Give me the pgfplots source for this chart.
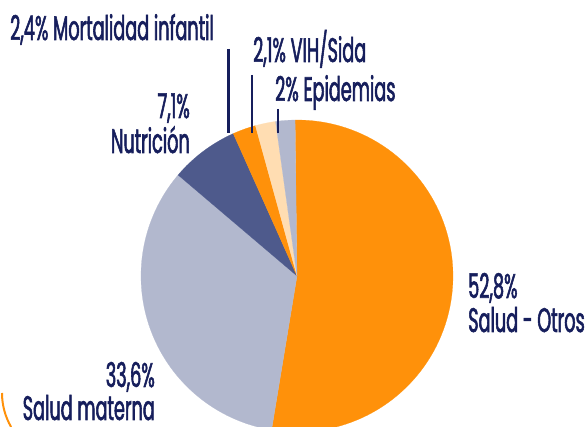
\documentclass[border=0pt]{standalone}
\usepackage{pgfplots}
\usepackage{pgfplotstable}
\pgfplotsset{compat=1.18}
\usepackage{fontspec}
\setmainfont[FakeStretch=0.52, FakeBold=1.6]{Poppins}
\definecolor{cOrange}{RGB}{255,145,10}
\definecolor{cGrey}{RGB}{178,184,206}
\definecolor{cDark}{RGB}{78,90,140}
\definecolor{cPeach}{RGB}{255,221,178}
\definecolor{cNavy}{RGB}{22,30,92}

\pgfplotstableread{
value color
52.8 cOrange
33.6 cGrey
7.1 cDark
2.4 cOrange
2.1 cPeach
2.0 cGrey
}\piedata

\begin{document}
\begin{tikzpicture}
\begin{axis}[
  scale only axis, width=586pt, height=427pt,
  xmin=0, xmax=586, ymin=-427, ymax=0,
  hide axis, clip=true,
]
\def\startangle{90.7}
\pgfplotsforeachungrouped \i in {0,...,5}{%
  \pgfplotstablegetelem{\i}{value}\of\piedata
  \let\v\pgfplotsretval
  \pgfplotstablegetelem{\i}{color}\of\piedata
  \let\c\pgfplotsretval
  \pgfmathsetmacro\endangle{\startangle-\v*3.6}%
  \edef\cmd{\noexpand\addplot[fill=\c, draw=\c, line width=0.2pt, domain=\endangle:\startangle, samples=90]
    ({297+156*cos(x)},{-276+156*sin(x)}) -- (297,-276) -- cycle;}%
  \cmd
  \global\let\startangle\endangle
}
% leader lines
\draw[cNavy, line width=2.4pt] (228.5,-49) -- (228.5,-133);
\draw[cNavy, line width=2.4pt] (252,-75) -- (252,-133);
\draw[cNavy, line width=2.4pt] (277.7,-109) -- (277.7,-133);
% decorative arc bottom-left
\draw[cOrange, line width=2pt] (2,-393) arc[start angle=180, end angle=210, radius=68];
% labels
\begin{scope}[every node/.style={text=cNavy, font=\fontsize{34}{37}\selectfont, inner sep=0pt}]
\node[anchor=base west] at (10,-40) {2,4\% Mortalidad infantil};
\node[anchor=base west] at (253,-62) {2,1\% VIH/Sida};
\node[anchor=base west] at (275,-101) {2\% Epidemias};
\node[anchor=base east] at (190,-118) {7,1\%};
\node[anchor=base east] at (190,-153) {Nutrición};
\node[anchor=base west] at (468,-298) {52,8\%};
\node[anchor=base west] at (468,-332) {Salud - Otros};
\node[anchor=base east] at (155,-387) {33,6\%};
\node[anchor=base east] at (155,-420) {Salud materna};
\end{scope}
\end{axis}
\pgfresetboundingbox
\path (0,0) rectangle (586pt,427pt);
\end{tikzpicture}
\end{document}
